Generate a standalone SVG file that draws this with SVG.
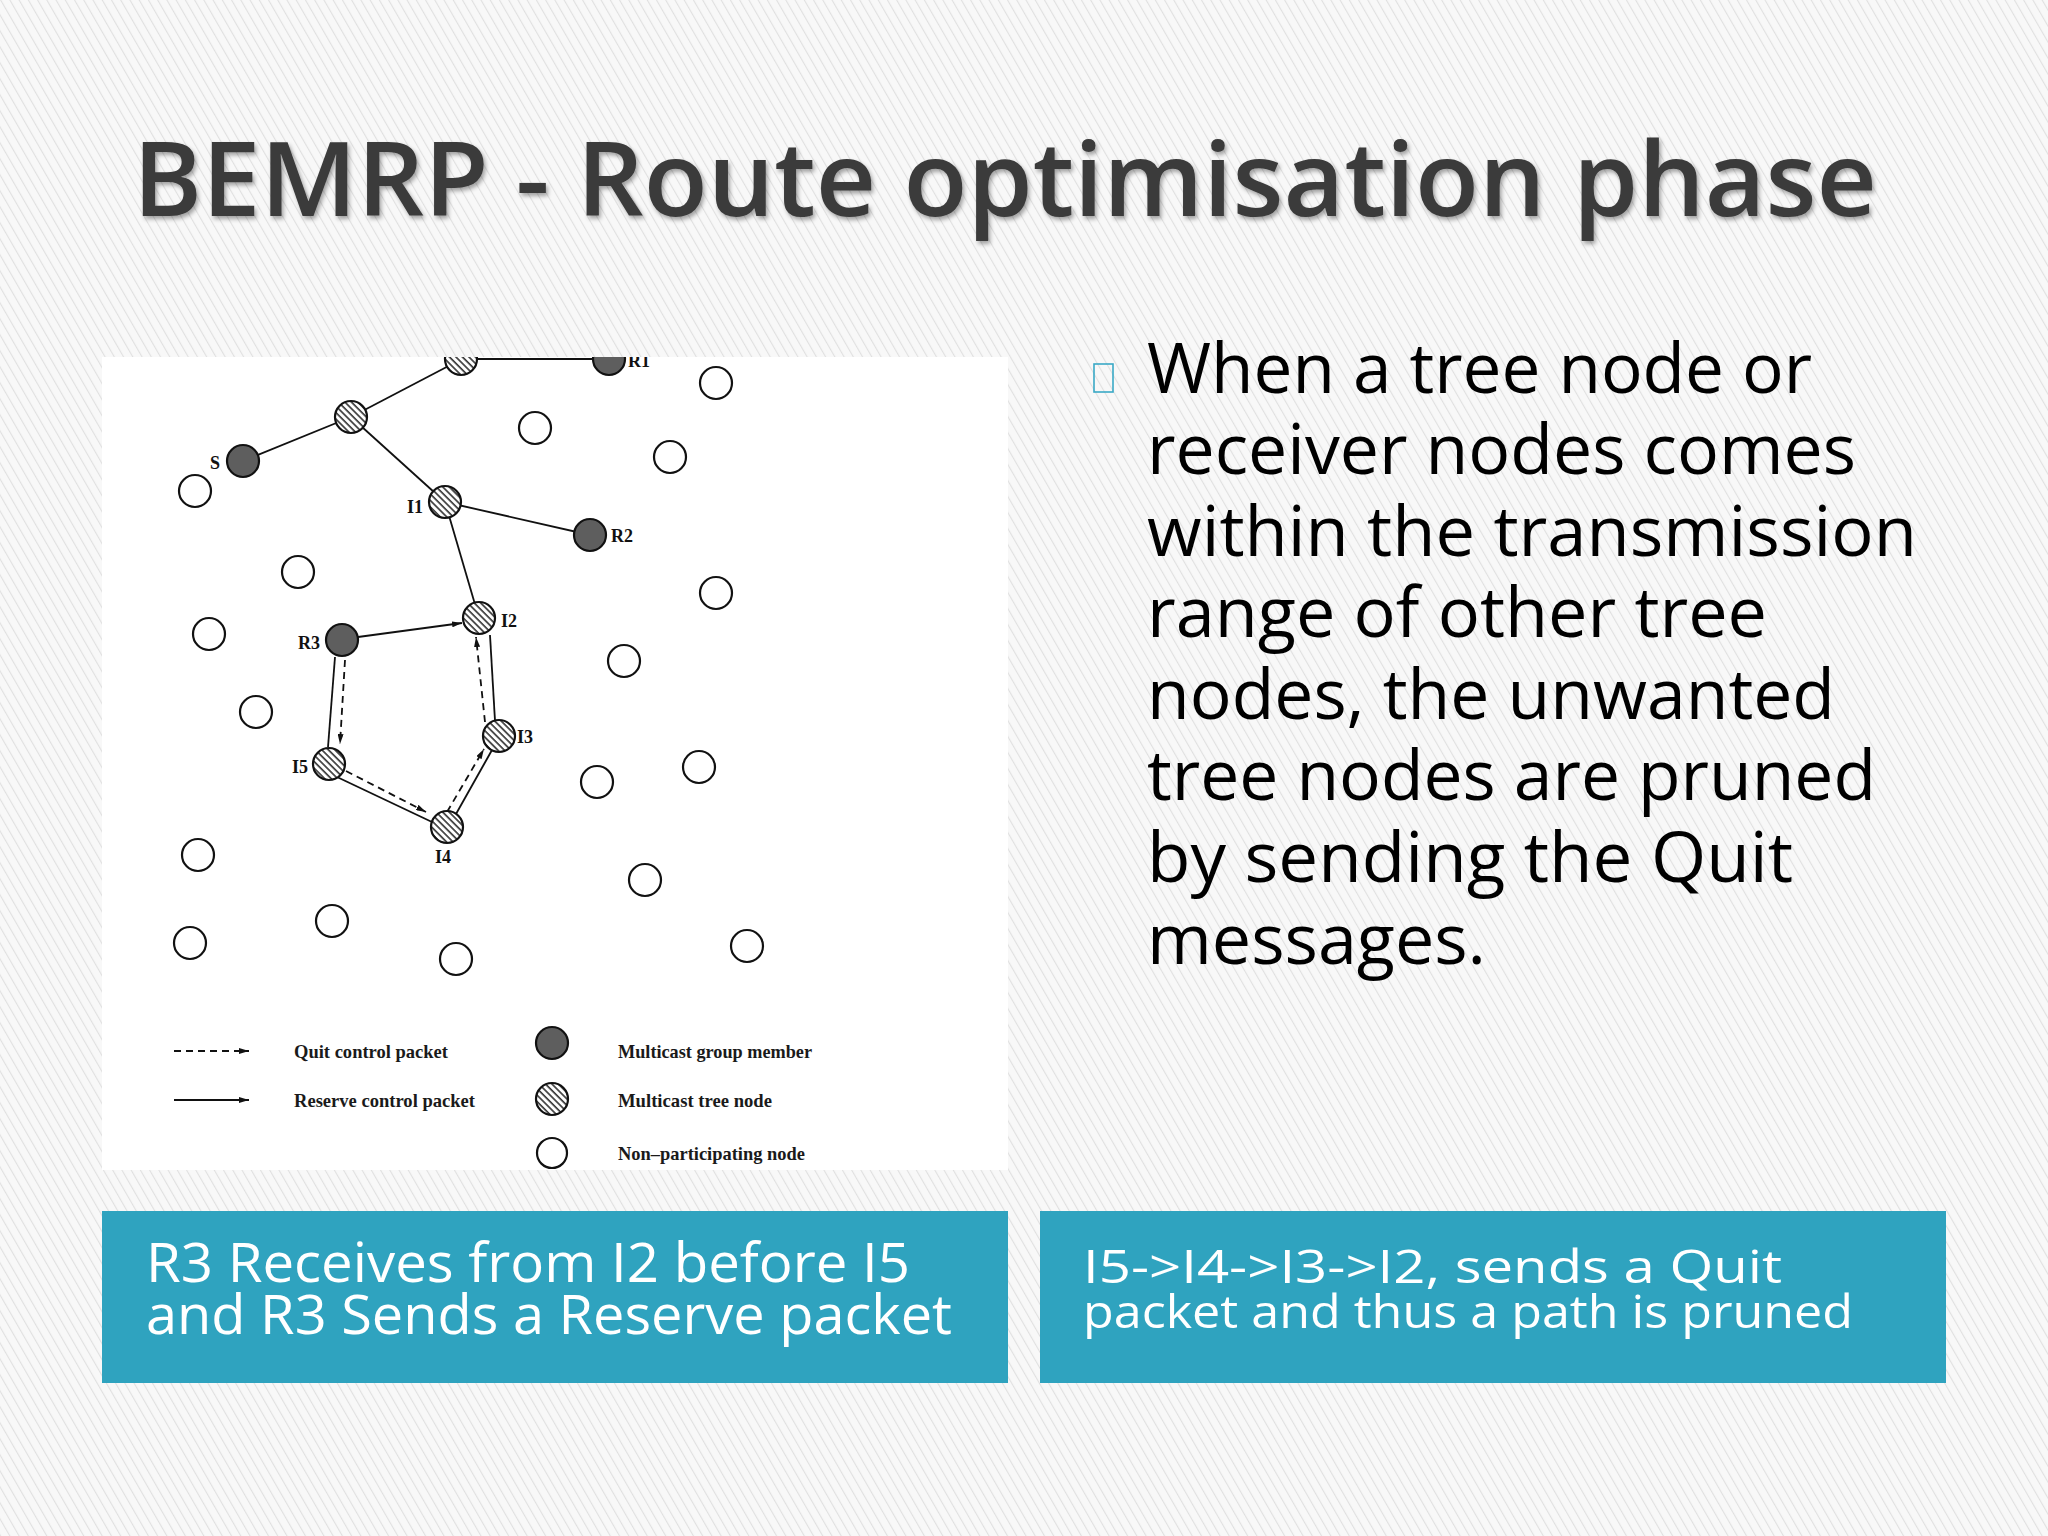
<svg xmlns="http://www.w3.org/2000/svg" width="2048" height="1536" viewBox="0 0 2048 1536">
<defs>
  <pattern id="bg" width="8" height="8" patternUnits="userSpaceOnUse" patternTransform="rotate(-30)">
    <rect width="8" height="8" fill="#f8f8f8"/>
    <line x1="0.5" y1="0" x2="0.5" y2="8" stroke="#e0e0e0" stroke-width="1.2"/>
  </pattern>
  <pattern id="hatch" width="4.6" height="4.6" patternUnits="userSpaceOnUse" patternTransform="rotate(-45)">
    <rect width="4.6" height="4.6" fill="#ffffff"/>
    <line x1="1" y1="0" x2="1" y2="4.6" stroke="#222" stroke-width="1.5"/>
  </pattern>
  <clipPath id="imgclip"><rect x="102" y="357" width="906" height="813"/></clipPath>
  <marker id="ah" viewBox="0 0 10 6" refX="10" refY="3" markerWidth="10" markerHeight="6" orient="auto" markerUnits="userSpaceOnUse">
    <path d="M0,0 L10,3 L0,6 z" fill="#111"/>
  </marker>
  <filter id="shadow" x="-5%" y="-20%" width="110%" height="150%">
    <feDropShadow dx="2" dy="3" stdDeviation="2" flood-color="#000" flood-opacity="0.35"/>
  </filter>
  <style>
    .title { font-family: "Open Sans", "DejaVu Sans", sans-serif; font-size: 104px; font-weight: 600; fill: #3b3b3b; }
    .body { font-family: "Open Sans", "DejaVu Sans", sans-serif; font-size: 70px; fill: #000; }
    .boxtxt { font-family: "Open Sans", "DejaVu Sans", sans-serif; fill: #fff; }
    .box { fill: #2fa3bf; }
    .lbl { font-family: "Liberation Serif", "Times New Roman", serif; font-size: 18px; font-weight: bold; fill: #111; }
    .leg { font-family: "Liberation Serif", "Times New Roman", serif; font-size: 19px; font-weight: bold; fill: #1a1a1a; }
    .open { fill: #fff; stroke: #111; stroke-width: 2.2; }
    .member { fill: #5e5e5e; stroke: #111; stroke-width: 2.2; }
    .tree { fill: url(#hatch); stroke: #111; stroke-width: 2.2; }
    .edge { stroke: #111; stroke-width: 1.8; fill: none; }
    .quit { stroke: #111; stroke-width: 1.8; fill: none; stroke-dasharray: 7 5; }
  </style>
</defs>

<rect x="0" y="0" width="2048" height="1536" fill="url(#bg)"/>

<text class="title" x="133" y="216" textLength="1744" lengthAdjust="spacingAndGlyphs" filter="url(#shadow)">BEMRP - Route optimisation phase</text>

<rect x="102" y="357" width="906" height="813" fill="#ffffff"/>

<g clip-path="url(#imgclip)">
  <g id="connectors">
    <line class="edge" x1="243" y1="461" x2="351" y2="417"/>
    <line class="edge" x1="351" y1="417" x2="460" y2="360"/>
    <line class="edge" x1="460" y1="359" x2="609" y2="359"/>
    <line class="edge" x1="351" y1="417" x2="445" y2="502"/>
    <line class="edge" x1="445" y1="502" x2="590" y2="535"/>
    <line class="edge" x1="445" y1="502" x2="479" y2="618"/>
    <line class="edge" x1="358" y1="637" x2="462" y2="623" marker-end="url(#ah)"/>
    <line class="edge" x1="335" y1="657" x2="328" y2="747"/>
    <line class="edge" x1="337" y1="777" x2="432" y2="822"/>
    <line class="edge" x1="456" y1="814" x2="492" y2="750"/>
    <line class="edge" x1="490" y1="635" x2="495" y2="721"/>
    <line class="quit" x1="345" y1="660" x2="340" y2="744" marker-end="url(#ah)"/>
    <line class="quit" x1="346" y1="771" x2="426" y2="812" marker-end="url(#ah)"/>
    <line class="quit" x1="447" y1="812" x2="484" y2="749" marker-end="url(#ah)"/>
    <line class="quit" x1="485" y1="722" x2="476" y2="637" marker-end="url(#ah)"/>
  </g>

  <g id="node-T0"><circle class="tree" cx="461" cy="359" r="16"/></g>
  <g id="node-R1"><circle class="member" cx="609" cy="359" r="16"/><text class="lbl" x="628" y="367">R1</text></g>
  <g id="node-T1"><circle class="tree" cx="351" cy="417" r="16"/></g>
  <g id="node-S"><circle class="member" cx="243" cy="461" r="16"/><text class="lbl" x="210" y="469">S</text></g>
  <g id="node-I1"><circle class="tree" cx="445" cy="502" r="16"/><text class="lbl" x="407" y="513">I1</text></g>
  <g id="node-R2"><circle class="member" cx="590" cy="535" r="16"/><text class="lbl" x="611" y="542">R2</text></g>
  <g id="node-I2"><circle class="tree" cx="479" cy="618" r="16"/><text class="lbl" x="501" y="627">I2</text></g>
  <g id="node-R3"><circle class="member" cx="342" cy="640" r="16"/><text class="lbl" x="298" y="649">R3</text></g>
  <g id="node-I3"><circle class="tree" cx="499" cy="736" r="16"/><text class="lbl" x="517" y="743">I3</text></g>
  <g id="node-I5"><circle class="tree" cx="329" cy="764" r="16"/><text class="lbl" x="292" y="773">I5</text></g>
  <g id="node-I4"><circle class="tree" cx="447" cy="827" r="16"/><text class="lbl" x="435" y="863">I4</text></g>

  <g id="node-n1"><circle class="open" cx="716" cy="383" r="16"/></g>
  <g id="node-n2"><circle class="open" cx="535" cy="428" r="16"/></g>
  <g id="node-n3"><circle class="open" cx="670" cy="457" r="16"/></g>
  <g id="node-n4"><circle class="open" cx="195" cy="491" r="16"/></g>
  <g id="node-n5"><circle class="open" cx="298" cy="572" r="16"/></g>
  <g id="node-n6"><circle class="open" cx="716" cy="593" r="16"/></g>
  <g id="node-n7"><circle class="open" cx="209" cy="634" r="16"/></g>
  <g id="node-n8"><circle class="open" cx="624" cy="661" r="16"/></g>
  <g id="node-n9"><circle class="open" cx="256" cy="712" r="16"/></g>
  <g id="node-n10"><circle class="open" cx="699" cy="767" r="16"/></g>
  <g id="node-n11"><circle class="open" cx="597" cy="782" r="16"/></g>
  <g id="node-n12"><circle class="open" cx="198" cy="855" r="16"/></g>
  <g id="node-n13"><circle class="open" cx="645" cy="880" r="16"/></g>
  <g id="node-n14"><circle class="open" cx="332" cy="921" r="16"/></g>
  <g id="node-n15"><circle class="open" cx="190" cy="943" r="16"/></g>
  <g id="node-n16"><circle class="open" cx="747" cy="946" r="16"/></g>
  <g id="node-n17"><circle class="open" cx="456" cy="959" r="16"/></g>

  <g id="legend">
    <line class="quit" x1="174" y1="1051" x2="249" y2="1051" stroke-dasharray="9 6" marker-end="url(#ah)"/>
    <text class="leg" x="294" y="1058" textLength="154" lengthAdjust="spacingAndGlyphs">Quit control packet</text>
    <line class="edge" x1="174" y1="1100" x2="249" y2="1100" marker-end="url(#ah)"/>
    <text class="leg" x="294" y="1107" textLength="181" lengthAdjust="spacingAndGlyphs">Reserve control packet</text>
    <circle class="member" cx="552" cy="1043" r="16"/>
    <text class="leg" x="618" y="1058" textLength="194" lengthAdjust="spacingAndGlyphs">Multicast group member</text>
    <circle class="tree" cx="552" cy="1099" r="16"/>
    <text class="leg" x="618" y="1107" textLength="154" lengthAdjust="spacingAndGlyphs">Multicast tree node</text>
    <circle class="open" cx="552" cy="1153" r="15"/>
    <text class="leg" x="618" y="1160" textLength="187" lengthAdjust="spacingAndGlyphs">Non–participating node</text>
  </g>
</g>

<g id="bullet-text">
  <rect x="1094" y="364" width="19" height="28" fill="none" stroke="#3aa9c6" stroke-width="1.6"/>
  <text class="body" x="1147" y="393" textLength="665" lengthAdjust="spacingAndGlyphs">When a tree node or</text>
  <text class="body" x="1147" y="474" textLength="709" lengthAdjust="spacingAndGlyphs">receiver nodes comes</text>
  <text class="body" x="1147" y="556" textLength="770" lengthAdjust="spacingAndGlyphs">within the transmission</text>
  <text class="body" x="1147" y="637" textLength="620" lengthAdjust="spacingAndGlyphs">range of other tree</text>
  <text class="body" x="1147" y="719" textLength="688" lengthAdjust="spacingAndGlyphs">nodes, the unwanted</text>
  <text class="body" x="1147" y="800" textLength="729" lengthAdjust="spacingAndGlyphs">tree nodes are pruned</text>
  <text class="body" x="1147" y="882" textLength="646" lengthAdjust="spacingAndGlyphs">by sending the Quit</text>
  <text class="body" x="1147" y="964" textLength="339" lengthAdjust="spacingAndGlyphs">messages.</text>
</g>

<g id="box-left">
  <rect class="box" x="102" y="1211" width="906" height="172"/>
  <text class="boxtxt" font-size="54" x="146" y="1282" textLength="764" lengthAdjust="spacingAndGlyphs">R3 Receives from I2 before I5</text>
  <text class="boxtxt" font-size="54" x="146" y="1334" textLength="806" lengthAdjust="spacingAndGlyphs">and R3 Sends a Reserve packet</text>
</g>

<g id="box-right">
  <rect class="box" x="1040" y="1211" width="906" height="172"/>
  <text class="boxtxt" font-size="46" x="1083" y="1283" textLength="699" lengthAdjust="spacingAndGlyphs">I5-&gt;I4-&gt;I3-&gt;I2, sends a Quit</text>
  <text class="boxtxt" font-size="46" x="1083" y="1328" textLength="770" lengthAdjust="spacingAndGlyphs">packet and thus a path is pruned</text>
</g>
</svg>
